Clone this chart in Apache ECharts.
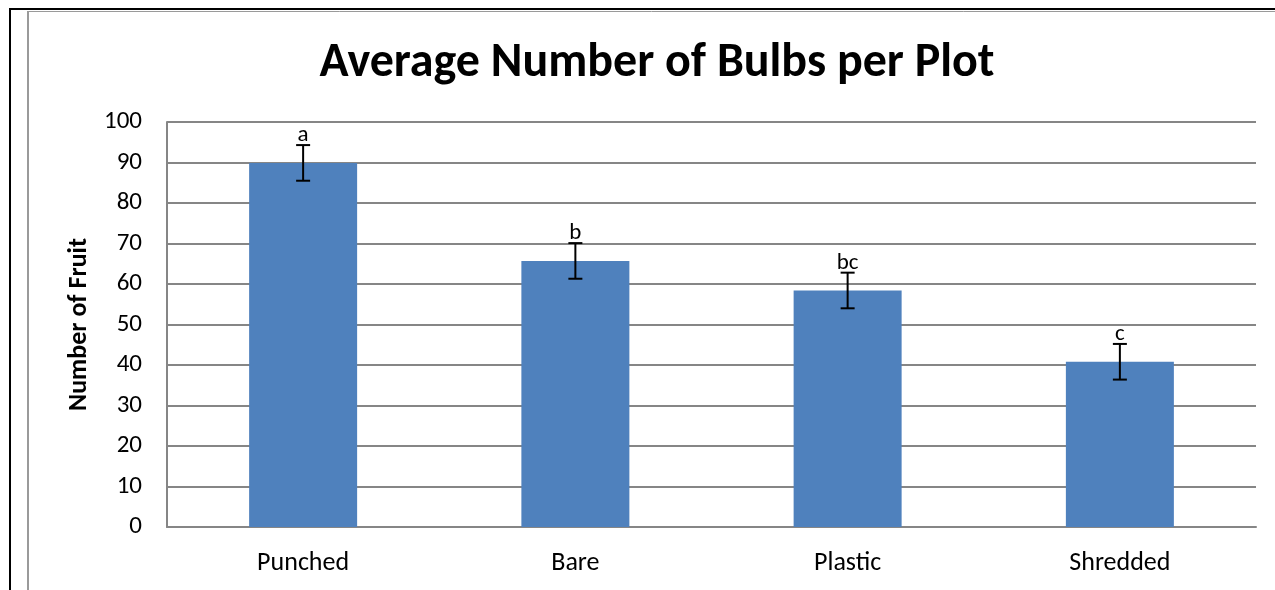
<!DOCTYPE html>
<html>
<head>
<meta charset="utf-8">
<script src="https://cdn.jsdelivr.net/npm/echarts@6/dist/echarts.min.js"></script>
<style>
html,body{margin:0;padding:0;background:#fff;}
#chart{width:1275px;height:590px;}
</style>
</head>
<body>
<div id="chart"></div>
<script>
const categories = ['Punched', 'Bare', 'Plastic', 'Shredded'];
const means = [89.9, 65.7, 58.4, 40.8];
const errors = [4.4, 4.4, 4.4, 4.4];
const letters = ['a', 'b', 'bc', 'c'];
const yTicks = { min: 0, max: 100, interval: 10 };

const FONT = 'Carlito, Lato, sans-serif';
const errData = categories.map((c, i) => [i, means[i] - errors[i], means[i] + errors[i], letters[i]]);

const chart = echarts.init(document.getElementById('chart'));
chart.setOption({
  animation: false,
  backgroundColor: '#fff',
  title: {
    text: 'Average Number of Bulbs per Plot',
    left: 652, top: 35, textAlign: 'center',
    textStyle: { fontFamily: FONT, fontSize: 48, fontWeight: 'bold', color: '#000' }
  },
  grid: { left: 167, right: 19, top: 122, bottom: 63, outerBoundsMode: 'none' },
  xAxis: {
    type: 'category', data: categories,
    axisLine: { lineStyle: { color: '#868686', width: 2 } },
    axisTick: { show: false },
    axisLabel: { fontFamily: FONT, fontSize: 26, color: '#000', margin: 23 }
  },
  yAxis: {
    type: 'value', min: yTicks.min, max: yTicks.max, interval: yTicks.interval,
    name: 'Number of Fruit', nameLocation: 'middle', nameGap: 75, nameRotate: 90,
    nameTextStyle: { fontFamily: FONT, fontSize: 26, fontWeight: 'bold', color: '#000' },
    axisLine: { show: true, lineStyle: { color: '#868686', width: 2 } },
    axisTick: { show: false },
    axisLabel: { fontFamily: FONT, fontSize: 25, color: '#000', margin: 25 },
    splitLine: { lineStyle: { color: '#868686', width: 2 } }
  },
  series: [
    {
      type: 'bar', data: means, barWidth: 108,
      itemStyle: { color: '#4F81BD' }, z: 2
    },
    {
      type: 'custom', data: errData, z: 5,
      encode: { x: 0, y: [1, 2] },
      renderItem: function (params, api) {
        const x = api.value(0);
        const lo = api.coord([x, api.value(1)]);
        const hi = api.coord([x, api.value(2)]);
        const hw = 7;
        const style = { stroke: '#000', lineWidth: 2 };
        return {
          type: 'group',
          children: [
            { type: 'line', shape: { x1: hi[0], y1: hi[1], x2: lo[0], y2: lo[1] }, style: style },
            { type: 'line', shape: { x1: hi[0] - hw, y1: hi[1], x2: hi[0] + hw, y2: hi[1] }, style: style },
            { type: 'line', shape: { x1: lo[0] - hw, y1: lo[1], x2: lo[0] + hw, y2: lo[1] }, style: style },
            { type: 'text', x: hi[0], y: hi[1] + 2,
              style: { text: api.value(3), fill: '#000', font: '23px ' + FONT, textAlign: 'center', textVerticalAlign: 'bottom' } }
          ]
        };
      }
    }
  ],
  graphic: [
    { type: 'line', silent: true, shape: { x1: 28, y1: 11, x2: 28, y2: 590 }, style: { stroke: '#9a9a9a', lineWidth: 2 } },
    { type: 'line', silent: true, shape: { x1: 28, y1: 11.5, x2: 1275, y2: 11.5 }, style: { stroke: '#9a9a9a', lineWidth: 1 } },
    { type: 'line', silent: true, shape: { x1: 10, y1: 9, x2: 1275, y2: 9 }, style: { stroke: '#000', lineWidth: 2 } },
    { type: 'line', silent: true, shape: { x1: 10, y1: 8, x2: 10, y2: 590 }, style: { stroke: '#000', lineWidth: 2 } }
  ]
});
</script>
</body>
</html>
